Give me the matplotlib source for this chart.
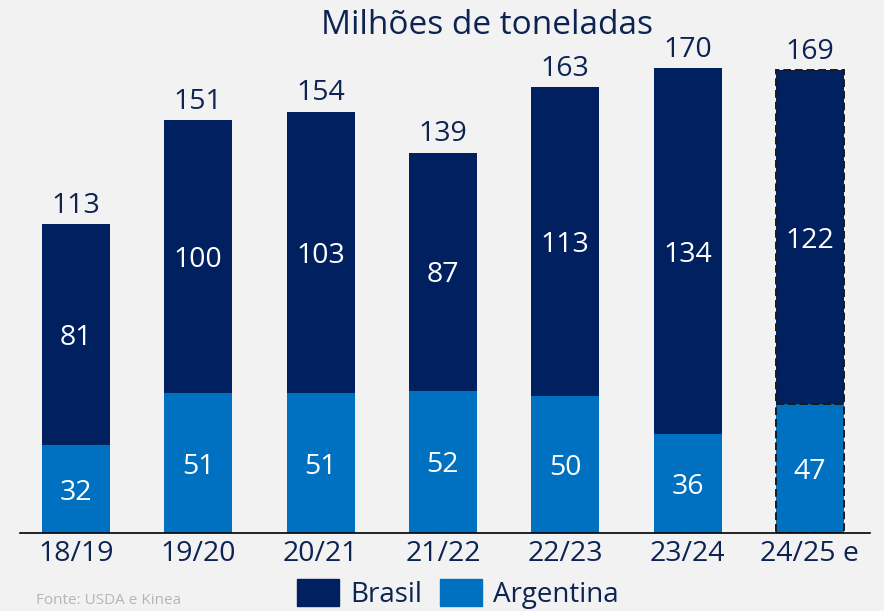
import matplotlib
matplotlib.use("Agg")
import matplotlib.pyplot as plt
from matplotlib.patches import Patch

safras = ["18/19", "19/20", "20/21", "21/22", "22/23", "23/24", "24/25 e"]
brasil = [81, 100, 103, 87, 113, 134, 122]
argentina = [32, 51, 51, 52, 50, 36, 47]
totais = [113, 151, 154, 139, 163, 170, 169]
estimado = [False, False, False, False, False, False, True]

COR_BRASIL = "#002060"
COR_ARG = "#0070c0"
COR_TEXTO = "#0d2352"
FUNDO = "#f2f2f2"

plt.rcParams["font.family"] = ["Open Sans", "DejaVu Sans"]

fig = plt.figure(figsize=(8.84, 6.11), dpi=100, facecolor=FUNDO)
ax = fig.add_axes([20 / 884, 1 - 533 / 611, 850 / 884, 520 / 611])
ax.set_facecolor(FUNDO)

x = list(range(len(safras)))
largura = 0.556
FS = 20.5

for i in x:
    est = estimado[i]
    kw = dict(edgecolor="#1a1a1a", linewidth=1.4, linestyle=(0, (4, 2))) if est else dict(linewidth=0)
    ax.bar(i, argentina[i], width=largura, color=COR_ARG, **kw)
    ax.bar(i, brasil[i], width=largura, bottom=argentina[i], color=COR_BRASIL, **kw)
    ax.text(i, argentina[i] / 2, f"{argentina[i]}", ha="center", va="center_baseline",
            color="white", fontsize=FS)
    ax.text(i, argentina[i] + brasil[i] / 2, f"{brasil[i]}", ha="center",
            va="center_baseline", color="white", fontsize=FS)
    ax.text(i, totais[i] + 1.5, f"{totais[i]}", ha="center", va="bottom",
            color=COR_TEXTO, fontsize=FS)

ax.set_xlim(-0.458, 6.492)
ax.set_ylim(0, 190)
for s in ["top", "right", "left"]:
    ax.spines[s].set_visible(False)
ax.spines["bottom"].set_color("black")
ax.spines["bottom"].set_linewidth(1.2)
ax.set_yticks([])
ax.set_xticks(x)
ax.set_xticklabels(safras, fontsize=FS, color=COR_TEXTO)
ax.tick_params(axis="x", length=0, pad=5)

fig.text(487 / 884, 1 - 25 / 611, "Milhões de toneladas", ha="center", va="center",
         fontsize=24, color=COR_TEXTO)

handles = [Patch(color=COR_BRASIL, label="Brasil"), Patch(color=COR_ARG, label="Argentina")]
fig.legend(handles=handles, loc="center", bbox_to_anchor=(458 / 884, 1 - 594 / 611),
           ncol=2, frameon=False, fontsize=20, handlelength=1.5, handleheight=1.15,
           handletextpad=0.4, columnspacing=0.65, labelcolor=COR_TEXTO,
           borderpad=0, borderaxespad=0)

fig.text(36 / 884, 1 - 601 / 611, "Fonte: USDA e Kinea", ha="left", va="center",
         fontsize=11, color="#b5b5b5")

fig.savefig("out.png", dpi=100, facecolor=FUNDO)
